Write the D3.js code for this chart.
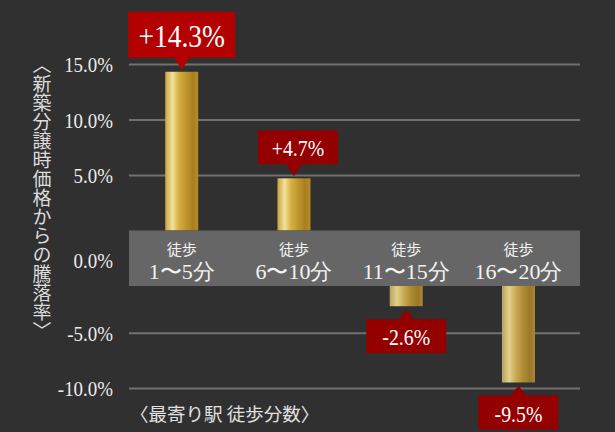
<!DOCTYPE html>
<html>
<head>
<meta charset="utf-8">
<script src="https://cdn.jsdelivr.net/npm/d3@7"></script>
<style>
  html, body { margin: 0; padding: 0; background: #303030; }
  svg { display: block; }
  .serif { font-family: "Liberation Serif", "Times New Roman", serif; }
  .sans { font-family: "Noto Sans CJK JP", sans-serif; }
</style>
</head>
<body>
<div id="chart"></div>
<script>
// data
const stepLabels = ["徒歩", "徒歩", "徒歩", "徒歩"];
const minuteLabels = ["1〜5分", "6〜10分", "11〜15分", "16〜20分"];
const values = [14.3, 4.7, -2.6, -9.5];
const valueLabels = ["+14.3%", "+4.7%", "-2.6%", "-9.5%"];
const upTicks = [5, 10, 15];
const downTicks = [-5, -10];
const zeroLabel = "0.0%";
const yTitle = "〈新築分譲時価格からの騰落率〉";
const xTitle = "〈最寄り駅 徒歩分数〉";

const W = 615, H = 432;
const squeeze = 0.86;

const svg = d3.select("#chart").append("svg")
    .attr("width", W)
    .attr("height", H);

svg.append("rect")
    .attr("width", W)
    .attr("height", H)
    .attr("fill", "#303030");

// gradients for the gold bars
const defs = svg.append("defs");
const gradUp = defs.append("linearGradient").attr("id", "goldUp");
[["0%", "#c9a33e"], ["22%", "#f2e29c"], ["40%", "#d8b247"], ["62%", "#bf972c"], ["84%", "#a97f1f"], ["100%", "#b58d2a"]]
    .forEach(s => gradUp.append("stop").attr("offset", s[0]).attr("stop-color", s[1]));
const gradDown = defs.append("linearGradient").attr("id", "goldDown");
[["0%", "#b9a25e"], ["22%", "#e2d08c"], ["42%", "#c8aa55"], ["65%", "#ad8a32"], ["86%", "#9b7826"], ["100%", "#a88838"]]
    .forEach(s => gradDown.append("stop").attr("offset", s[0]).attr("stop-color", s[1]));

// layout
const left = 129, right = 580;
const bandTop = 230.5, bandBottom = 286;

const x = d3.scalePoint()
    .domain(minuteLabels)
    .range([125.6, 574.6])
    .padding(0.5);
const barW = 33;

const yUp = d3.scaleLinear().domain([0, 15]).range([bandTop, 64]);
const yDown = d3.scaleLinear().domain([0, -10]).range([277.5, 388]);

const fmt = d => d.toFixed(1) + "%";

function drawAxis(scale, ticks) {
    const g = svg.append("g")
        .attr("transform", `translate(${left},0)`)
        .call(d3.axisLeft(scale)
            .tickValues(ticks)
            .tickFormat(fmt)
            .tickSize(-(right - left))
            .tickPadding(0));
    g.select(".domain").remove();
    g.selectAll(".tick line")
        .attr("stroke", "#707070")
        .attr("stroke-width", 2);
    g.selectAll(".tick text")
        .attr("class", "serif")
        .attr("x", 0)
        .attr("dy", "0.35em")
        .attr("transform", `translate(-16,0) scale(${squeeze},1)`)
        .attr("fill", "#ececec")
        .attr("font-size", 22);
    return g;
}
drawAxis(yUp, upTicks);
drawAxis(yDown, downTicks);

// bars
svg.selectAll(".bar")
    .data(values)
    .enter()
    .append("rect")
    .attr("class", "bar")
    .attr("x", (d, i) => x(minuteLabels[i]) - barW / 2)
    .attr("y", d => d >= 0 ? yUp(d) : yDown(0))
    .attr("width", barW)
    .attr("height", d => d >= 0 ? yUp(0) - yUp(d) : yDown(d) - yDown(0))
    .attr("fill", d => d >= 0 ? "url(#goldUp)" : "url(#goldDown)");

// grey band with the category names
svg.append("rect")
    .attr("x", left)
    .attr("y", bandTop)
    .attr("width", right - left)
    .attr("height", bandBottom - bandTop)
    .attr("fill", "#666666");

svg.append("text")
    .attr("class", "serif")
    .attr("x", 0)
    .attr("y", 0)
    .attr("transform", `translate(113,${(bandTop + bandBottom) / 2 + 2}) scale(${squeeze},1)`)
    .attr("dy", "0.35em")
    .attr("text-anchor", "end")
    .attr("fill", "#ececec")
    .attr("font-size", 22)
    .text(zeroLabel);

const cats = svg.selectAll(".cat")
    .data(minuteLabels)
    .enter()
    .append("g")
    .attr("class", "cat")
    .attr("transform", d => `translate(${x(d)},0)`);
cats.append("text")
    .attr("class", "sans")
    .attr("y", 250)
    .attr("dy", "0.35em")
    .attr("text-anchor", "middle")
    .attr("fill", "#f2f2f2")
    .attr("font-size", 15)
    .text((d, i) => stepLabels[i]);
cats.append("text")
    .attr("class", "serif")
    .attr("y", 271)
    .attr("dy", "0.35em")
    .attr("text-anchor", "middle")
    .attr("fill", "#f2f2f2")
    .attr("font-size", 22)
    .text(d => d);

// value callouts
const callouts = values.map((v, i) => {
    const big = i === 0;
    const h = big ? 46 : 34;
    const w = big ? 107 : 80;
    const tip = v >= 0 ? yUp(v) - 2 : yDown(v) + 3;
    return { v, i, big, h, w, tip, cx: x(minuteLabels[i]) + (i === 1 ? 4 : 0) };
});

const co = svg.selectAll(".callout")
    .data(callouts)
    .enter()
    .append("g")
    .attr("class", "callout");

co.append("rect")
    .attr("x", d => d.cx - d.w / 2)
    .attr("y", d => d.v >= 0 ? d.tip - 12 - d.h : d.tip + 10)
    .attr("width", d => d.w)
    .attr("height", d => d.h)
    .attr("fill", d => d.big ? "#b30000" : "#940000");

co.append("path")
    .attr("d", d => {
        const px = x(minuteLabels[d.i]);
        const b = d.v >= 0 ? d.tip - 12.5 : d.tip + 10.5;
        return `M${px - 8},${b}L${px + 8},${b}L${px},${d.tip}Z`;
    })
    .attr("fill", d => d.big ? "#b30000" : "#940000");

co.append("text")
    .attr("class", "serif")
    .attr("x", 0)
    .attr("y", 0)
    .attr("transform", d => {
        const top = d.v >= 0 ? d.tip - 12 - d.h : d.tip + 10;
        return `translate(${d.cx},${top + d.h / 2 + 1}) scale(${squeeze},1)`;
    })
    .attr("dy", "0.35em")
    .attr("text-anchor", "middle")
    .attr("fill", "#ffffff")
    .attr("font-size", d => d.big ? 32 : 23)
    .text(d => valueLabels[d.i]);

// axis titles
svg.append("text")
    .attr("class", "sans")
    .attr("x", 42)
    .attr("y", 55)
    .style("writing-mode", "vertical-rl")
    .attr("fill", "#dcdcdc")
    .attr("font-size", 19)
    .text(yTitle);

svg.append("text")
    .attr("class", "sans")
    .attr("x", 130)
    .attr("y", 421)
    .attr("fill", "#e0e0e0")
    .attr("font-size", 18.5)
    .text(xTitle);
</script>
</body>
</html>
